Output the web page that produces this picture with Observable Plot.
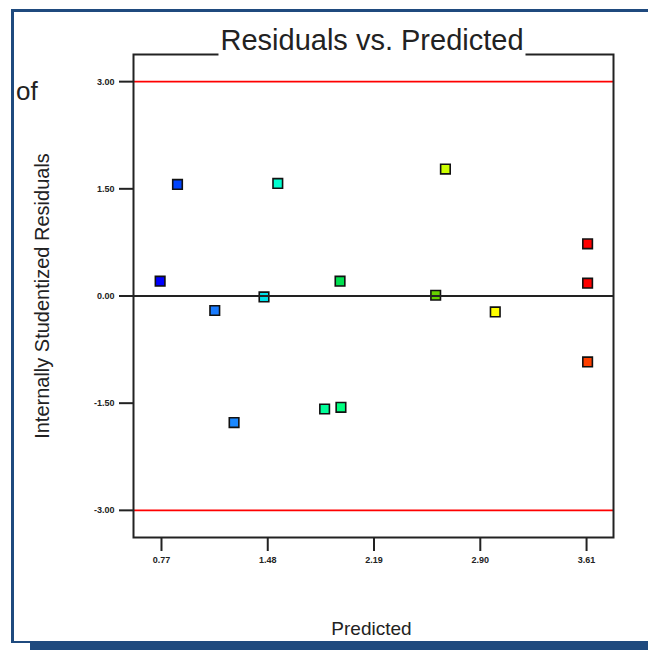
<!DOCTYPE html>
<html><head><meta charset="utf-8">
<script src="https://cdn.jsdelivr.net/npm/d3@7"></script>
<script src="https://cdn.jsdelivr.net/npm/@observablehq/plot@0.6"></script>
<style>
html,body{margin:0;padding:0;background:#fff;}
#wrap{position:relative;width:648px;height:650px;overflow:hidden;background:#fff;font-family:"Liberation Sans",Arial,sans-serif;}
#chart{position:absolute;left:0;top:0;}
.box{position:absolute;left:11px;top:9px;right:-10px;bottom:7px;border-top:3px solid #1f4a7e;border-left:3px solid #1f4a7e;border-bottom:2px solid #1f4a7e;}
.bar{position:absolute;left:30px;right:0;top:643px;height:7px;background:#1f4a7e;}
#title{position:absolute;left:372px;top:25.5px;transform:translateX(-50%);font-size:29px;line-height:29px;padding:0 2px 4px;background:#fff;color:#222;white-space:nowrap;}
#of{position:absolute;left:16px;top:78px;font-size:26px;line-height:26px;color:#222;}
</style>
</head><body>
<div id="wrap">
  <div class="box"></div>
  <div class="bar"></div>
  <div id="chart"></div>
  <div id="title">Residuals vs. Predicted</div>
  <div id="of">of</div>
</div>
<script>
const predicted = [0.761, 0.877, 1.126, 1.255, 1.455, 1.547, 1.860, 1.963, 1.969, 2.602, 2.667, 3.000, 3.617, 3.617, 3.617];
const residuals = [0.207, 1.562, -0.203, -1.772, -0.013, 1.576, -1.582, 0.207, -1.558, 0.011, 1.776, -0.223, 0.730, 0.179, -0.923];
const colors = ["#0000ff", "#0044ff", "#1a7cff", "#1a88ff", "#00e0e8", "#00ffd0", "#00ff99", "#00e050", "#00ff80", "#66d000", "#ccff00", "#ffff00", "#ff0000", "#ff0000", "#ff4000"];
const xTicks = [0.77, 1.48, 2.19, 2.90, 3.61];
const yTicks = [-3, -1.5, 0, 1.5, 3];
const limits = [-3, 3];
const zeroLine = [0];
const yLabel = ["Internally Studentized Residuals"];
const xLabel = ["Predicted"];

const data = predicted.map((p, i) => ({predicted: p, residual: residuals[i], color: colors[i]}));
const fmt = d => d.toFixed(2);

const plot = Plot.plot({
  width: 648,
  height: 650,
  marginLeft: 133,
  marginRight: 35,
  marginTop: 54,
  marginBottom: 113,
  style: {background: "transparent", fontFamily: "Liberation Sans, Arial, sans-serif", fontSize: "9px", color: "#222", overflow: "visible"},
  x: {domain: [0.583, 3.79]},
  y: {domain: [-3.38, 3.38]},
  color: {type: "identity"},
  marks: [
    Plot.ruleY(limits, {stroke: "#ff0000", strokeWidth: 1.6}),
    Plot.frame({stroke: "#222", strokeWidth: 2}),
    Plot.axisX(xTicks, {anchor: "bottom", tickSize: 14, tickPadding: 5, strokeWidth: 2, stroke: "#222", tickFormat: fmt, label: null, fontSize: 9, fontWeight: "bold", fill: "#222"}),
    Plot.axisY(yTicks, {anchor: "left", tickSize: 14, tickPadding: 5, strokeWidth: 2, stroke: "#222", tickFormat: fmt, label: null, fontSize: 9, fontWeight: "bold", fill: "#222"}),
    Plot.dot(data, {x: "predicted", y: "residual", symbol: "square", r: 5.4, fill: "color", stroke: "#111", strokeWidth: 1.6}),
    Plot.ruleY(zeroLine, {stroke: "#222", strokeWidth: 2}),
    Plot.text(yLabel, {text: d => d, frameAnchor: "left", textAnchor: "middle", dx: -91, rotate: -90, fontSize: 20, fill: "#222"}),
    Plot.text(xLabel, {text: d => d, frameAnchor: "bottom", textAnchor: "middle", dx: -2, dy: 97, fontSize: 19, fill: "#222"})
  ]
});
document.getElementById("chart").appendChild(plot);
</script>
</body></html>
